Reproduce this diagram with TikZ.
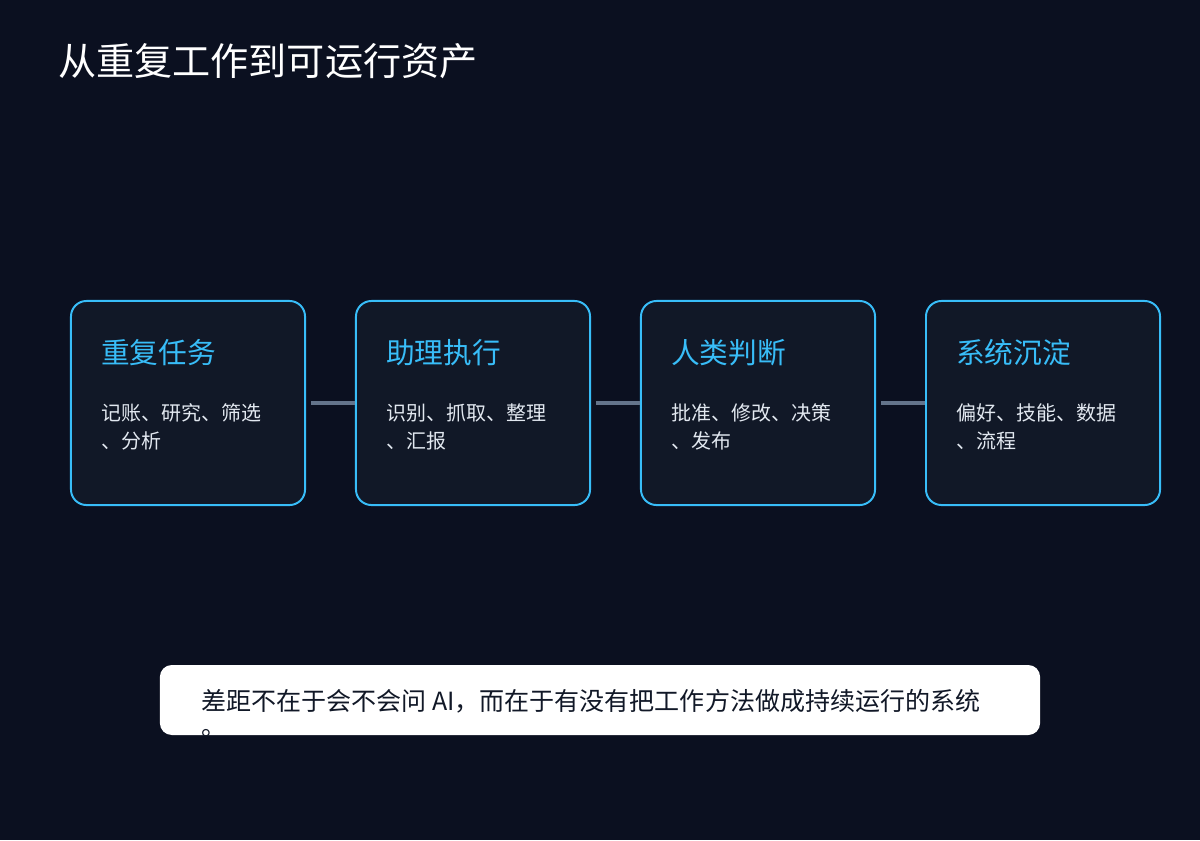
\documentclass[tikz,border=0pt]{standalone}
\usepackage{fontspec}
\setmainfont{Noto Sans CJK SC}
\usetikzlibrary{positioning}

\definecolor{bgdark}{HTML}{0B1020}
\definecolor{cardfill}{HTML}{111827}
\definecolor{skyline}{HTML}{38BDF8}
\definecolor{linkgray}{HTML}{64748B}
\definecolor{softtext}{HTML}{E2E8F0}
\definecolor{inktext}{HTML}{111827}

\tikzset{
  card/.style={draw=skyline, fill=cardfill, line width=1.4pt, rounded corners=11pt,
    minimum width=5.85cm, minimum height=5.1cm, inner sep=0pt},
  cardhead/.style={anchor=base west, inner sep=0pt, text=skyline,
    font=\fontsize{20.4pt}{24pt}\selectfont},
  cardbody/.style={anchor=base west, inner sep=0pt, text=softtext,
    font=\fontsize{14.2pt}{20pt}\selectfont},
  linkbar/.style={draw=linkgray, line width=3.2pt, shorten <=3.5pt},
}

\begin{document}
\begin{tikzpicture}[x=0.025cm,y=-0.025cm]
        \fill[bgdark] (0,0) rectangle (1200,840);
        \useasboundingbox (0,0) rectangle (1200,840);

        \node[anchor=base west, inner sep=0pt, text=white,
              font=\fontsize{27.1pt}{32pt}\selectfont] (title) at (58,76) {从重复工作到可运行资产};

        \foreach \i/\x/\head/\la/\lb in {1/71/重复任务/记账、研究、筛选/、分析,
                                         2/356/助理执行/识别、抓取、整理/、汇报,
                                         3/641/人类判断/批准、修改、决策/、发布,
                                         4/926/系统沉淀/偏好、技能、数据/、流程}{
            \node[card] (c\i) at (\x+117,403) {};
            \node[cardhead] (h\i) at (\x+30,363) {\head};
            \node[cardbody] (la\i) at (\x+30,420) {\la};
            \node[cardbody] (lb\i) at (\x+30,448) {\lb};
        }

        \draw[linkbar] (c1.east) -- (c2.west);
        \draw[linkbar] (c2.east) -- (c3.west);
        \draw[linkbar] (c3.east) -- (c4.west);

        \node[fill=white, rounded corners=8.5pt, minimum width=22cm, minimum height=1.75cm,
              inner sep=0pt] (note) at (600,700) {};
        \node[anchor=base west, inner sep=0pt, text=inktext,
              font=\fontsize{17.8pt}{21pt}\selectfont] (notea) at (201,710)
              {差距不在于会不会问 AI，而在于有没有把工作方法做成持续运行的系统};
        \node[anchor=base west, inner sep=0pt, text=inktext,
              font=\fontsize{17.8pt}{21pt}\selectfont] (noteb) at (201,735) {。};
    \end{tikzpicture}
\end{document}
